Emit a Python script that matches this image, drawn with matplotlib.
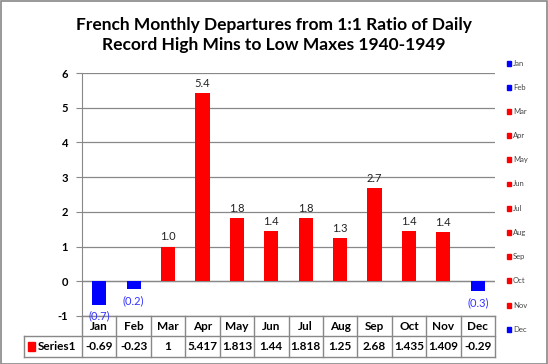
import matplotlib
matplotlib.use("Agg")
import matplotlib.pyplot as plt
from matplotlib.patches import Rectangle
from matplotlib.lines import Line2D
from decimal import Decimal, ROUND_HALF_UP

months = ["Jan", "Feb", "Mar", "Apr", "May", "Jun", "Jul", "Aug", "Sep", "Oct", "Nov", "Dec"]
values = [-0.69, -0.23, 1, 5.417, 1.813, 1.44, 1.818, 1.25, 2.68, 1.435, 1.409, -0.29]
table_text = ["-0.69", "-0.23", "1", "5.417", "1.813", "1.44", "1.818", "1.25", "2.68", "1.435", "1.409", "-0.29"]
series_name = "Series1"
title = "French Monthly Departures from 1:1 Ratio of Daily\nRecord High Mins to Low Maxes 1940-1949"
yticks = [-1, 0, 1, 2, 3, 4, 5, 6]


def fmt1(v):
    return str(Decimal(str(abs(v))).quantize(Decimal("0.1"), rounding=ROUND_HALF_UP))


plt.rcParams['font.family'] = ['Lato', 'DejaVu Sans']
W, H = 548, 364
fig = plt.figure(figsize=(W / 100, H / 100), dpi=100)
fig.patch.set_facecolor("white")
fig.add_artist(Rectangle((0.5 / W, 0.5 / H), 1 - 1.5 / W, 1 - 1.5 / H, transform=fig.transFigure,
                         fill=False, edgecolor="#888888", lw=1.2))

L, R, T, B = 82, 495, 73, 316
ax = fig.add_axes([L / W, 1 - B / H, (R - L) / W, (B - T) / H])
colors = ["#0000ff" if v < 0 else "#ff0000" for v in values]
x = list(range(len(months)))
ax.bar(x, values, width=0.41, color=colors, zorder=3)
ax.set_xlim(-0.5, 11.5)
ax.set_ylim(-1, 6)
ax.set_yticks(yticks)
ax.set_yticklabels([str(t) for t in yticks], fontsize=8, fontweight="bold")
ax.set_xticks([])
for s in ["top", "right", "bottom"]:
    ax.spines[s].set_visible(False)
ax.spines["left"].set_color("#888888")
ax.tick_params(axis="y", length=4, color="#888888", pad=6)
ax.grid(axis="y", color="#888888", lw=0.9, zorder=0)
ax.axhline(0, color="#888888", lw=0.9, zorder=2)

# data labels
for xi, v in zip(x, values):
    if v >= 0:
        ax.annotate(fmt1(v), (xi, v), xytext=(0, 3), textcoords="offset points",
                    ha="center", va="bottom", fontsize=8, color="#222222")
    else:
        ax.annotate(f"({fmt1(v)})", (xi, v), xytext=(0, -4), textcoords="offset points",
                    ha="center", va="top", fontsize=8, color="#3333ff")

# data table
tr = ax.get_xaxis_transform()
ah = B - T
r1 = -20 / ah
r2 = -41 / ah
gc = "#888888"
xl_leg = -0.5 - (L - 24) / ((R - L) / 12)


def hline(y, x0, x1):
    ax.add_line(Line2D([x0, x1], [y, y], transform=tr, color=gc, lw=1, clip_on=False))


def vline(xv, y0, y1):
    ax.add_line(Line2D([xv, xv], [y0, y1], transform=tr, color=gc, lw=1, clip_on=False))


hline(0, -0.5, 11.5)
hline(r1, xl_leg, 11.5)
hline(r2, xl_leg, 11.5)
vline(xl_leg, r1, r2)
for i in range(13):
    vline(i - 0.5, 0, r2)
for i, (m, t) in enumerate(zip(months, table_text)):
    ax.text(i, r1 / 2, m, transform=tr, ha="center", va="center", fontsize=8.5, fontweight="bold")
    ax.text(i, (r1 + r2) / 2, t, transform=tr, ha="center", va="center", fontsize=8.5, fontweight="bold")
ax.add_patch(Rectangle((xl_leg + 0.12, (r1 + r2) / 2 - 0.018), 0.2, 0.036, transform=tr,
                       color="#ff0000", clip_on=False))
ax.text(xl_leg + 0.4, (r1 + r2) / 2, series_name, transform=tr, ha="left", va="center",
        fontsize=8.5, fontweight="bold")

# title
fig.text(274 / W, 1 - 35 / H, title, ha="center", va="center", fontsize=12.5, fontweight="bold",
         linespacing=1.3)

# right legend
for i, (m, c) in enumerate(zip(months, colors)):
    yp = 63 + i * 24.2
    fig.add_artist(Rectangle((507 / W, 1 - (yp + 2.5) / H), 4 / W, 5 / H, transform=fig.transFigure,
                             color=c))
    fig.text(513 / W, 1 - yp / H, m, ha="left", va="center", fontsize=5.5, color="#444444")

fig.savefig("out.png", dpi=100)
